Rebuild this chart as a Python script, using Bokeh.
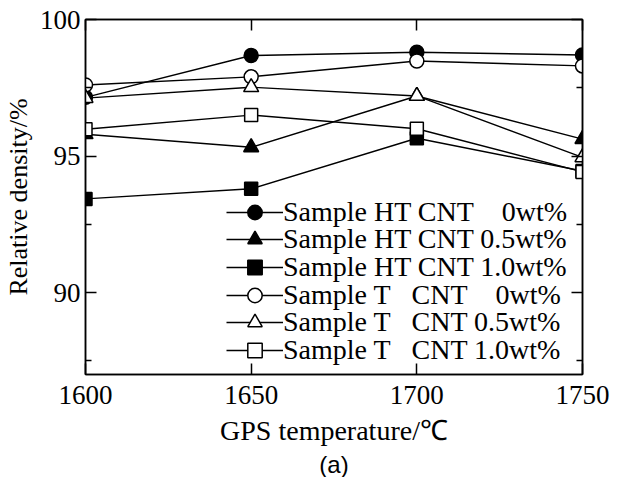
from bokeh.plotting import figure
from bokeh.models import (Range1d, LinearAxis, FixedTicker, Legend, LegendItem, Title)
from bokeh.embed import file_html
from bokeh.resources import INLINE

temps = [1600, 1650, 1700, 1750]
ht_0 = [97.15, 98.68, 98.80, 98.70]
ht_05 = [95.80, 95.32, 97.20, 95.62]
ht_10 = [93.43, 93.80, 95.65, 94.45]
t_0 = [97.60, 97.90, 98.48, 98.30]
t_05 = [97.12, 97.52, 97.20, 94.95]
t_10 = [95.98, 96.50, 96.00, 94.42]

NB = "\u00a0"
labels = [
    "Sample HT CNT" + NB * 4 + "0wt%",
    "Sample HT CNT 0.5wt%",
    "Sample HT CNT 1.0wt%",
    "Sample T" + NB * 3 + "CNT" + NB * 4 + "0wt%",
    "Sample T" + NB * 3 + "CNT 0.5wt%",
    "Sample T" + NB * 3 + "CNT 1.0wt%",
]
series = [ht_0, ht_05, ht_10, t_0, t_05, t_10]
markers = ["circle", "triangle", "square", "circle", "triangle", "square"]
fills = ["black", "black", "black", "white", "white", "white"]
sizes = [14, 15, 13, 14, 15, 13]

x_ticks = [1600, 1650, 1700, 1750]
y_ticks = [90, 95, 100]
y_minor = [87.5, 92.5, 97.5]

SERIF = "Liberation Serif"

p = figure(width=609, height=467, output_backend="svg", toolbar_location=None,
           x_range=Range1d(1600, 1750), y_range=Range1d(87, 100),
           frame_width=497, frame_height=355,
           min_border_left=79, min_border_right=33, min_border_top=19, min_border_bottom=93,
           x_axis_label="GPS temperature/\u2103", y_axis_label="Relative density/%")
p.grid.visible = False
p.outline_line_color = "black"
p.outline_line_width = 1.5
p.background_fill_color = "white"
p.border_fill_color = "white"

for ax in (p.xaxis[0], p.yaxis[0]):
    ax.axis_line_width = 1.5
    ax.major_tick_in = 11
    ax.major_tick_out = 0
    ax.minor_tick_in = 6
    ax.minor_tick_out = 0
    ax.major_tick_line_width = 1.5
    ax.minor_tick_line_width = 1.5
    ax.major_label_text_font = SERIF
    ax.major_label_text_font_size = "27px"
    ax.major_label_text_color = "black"
    ax.axis_label_text_font = SERIF
    ax.axis_label_text_font_style = "normal"
    ax.axis_label_text_color = "black"

p.xaxis[0].axis_label_text_font_size = "28px"
p.yaxis[0].axis_label_text_font_size = "26px"
p.xaxis[0].ticker = FixedTicker(ticks=x_ticks)
p.yaxis[0].ticker = FixedTicker(ticks=y_ticks, minor_ticks=y_minor)
p.xaxis[0].major_label_standoff = 11
p.xaxis[0].axis_label_standoff = 8
p.yaxis[0].major_label_standoff = 5
p.yaxis[0].axis_label_standoff = 4

top = LinearAxis(ticker=FixedTicker(ticks=x_ticks))
right = LinearAxis(ticker=FixedTicker(ticks=y_ticks, minor_ticks=y_minor))
for ax in (top, right):
    ax.axis_line_width = 1.5
    ax.major_tick_in = 11
    ax.major_tick_out = 0
    ax.minor_tick_in = 6
    ax.minor_tick_out = 0
    ax.major_tick_line_width = 1.5
    ax.minor_tick_line_width = 1.5
    ax.major_label_text_font_size = "0px"
    ax.major_label_standoff = 0
p.add_layout(top, "above")
p.add_layout(right, "right")

# legend rows: offsets (px) of each row's bottom above the frame's bottom edge
row_offsets = [144.4, 116.7, 89.0, 61.4, 33.7, 6.0]

for lab, ys, mk, fc, sz, off in zip(labels, series, markers, fills, sizes, row_offsets):
    r1 = p.line(temps, ys, line_color="black", line_width=1.4)
    r2 = p.scatter(temps, ys, marker=mk, size=sz, fill_color=fc, line_color="black", line_width=1.5)
    lg = Legend(items=[LegendItem(label=lab, renderers=[r1, r2])], location=(141, off),
                glyph_width=57, glyph_height=36, label_height=36,
                spacing=0, padding=0, margin=0, label_standoff=0,
                label_text_font=SERIF, label_text_font_size="28px", label_text_color="black",
                border_line_color=None, background_fill_alpha=0)
    p.add_layout(lg, "center")

t = Title(text="(a)", align="center", text_font="Liberation Sans", text_font_size="24px",
          text_font_style="normal", text_color="black", standoff=0)
p.add_layout(t, "below")

open("out.html", "w").write(file_html(p, INLINE))
